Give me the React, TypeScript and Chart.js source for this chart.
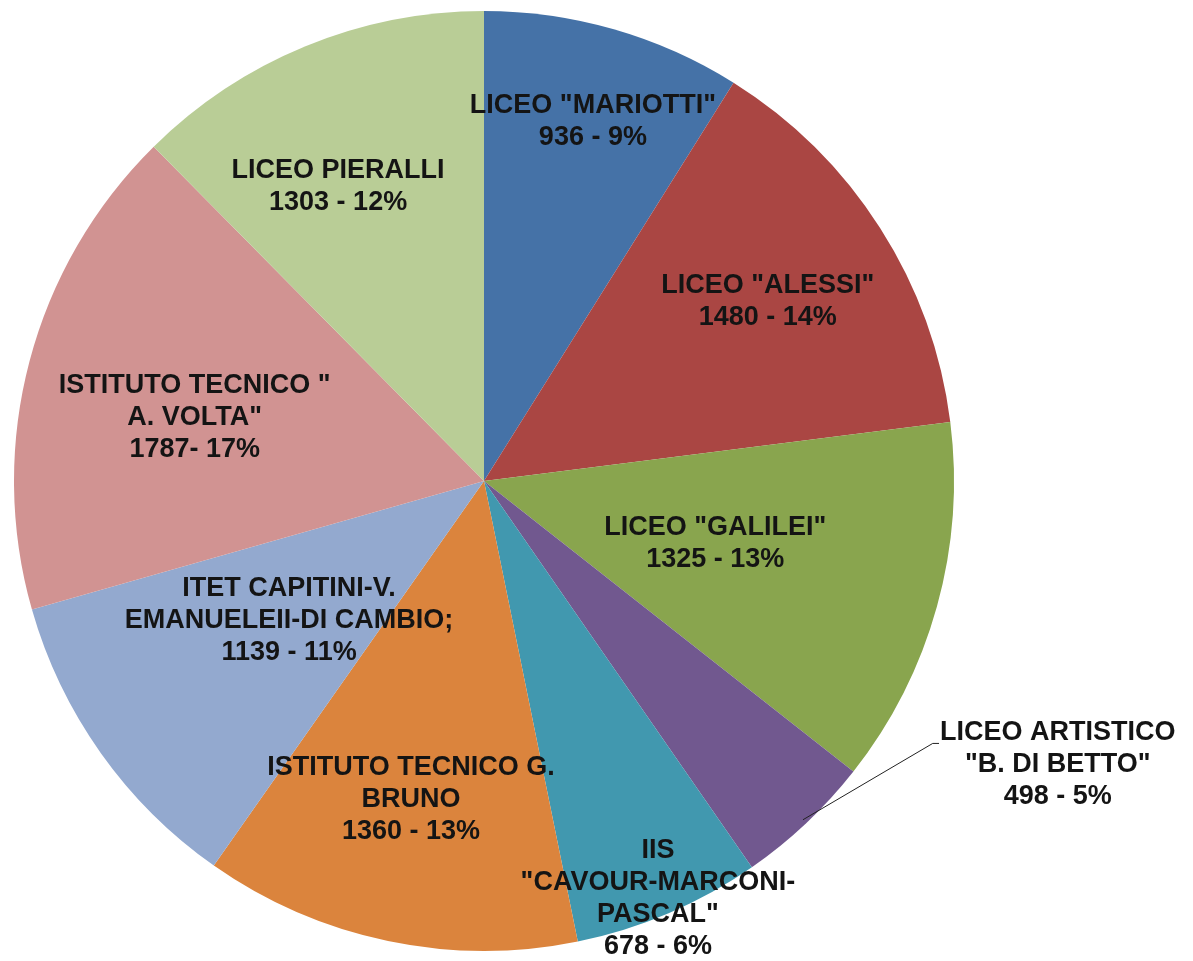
import React, { useEffect, useRef } from "react";
import { Chart, registerables } from "chart.js";

Chart.register(...registerables);

// ---- data ----
const categories = [
  'LICEO "MARIOTTI"',
  'LICEO "ALESSI"',
  'LICEO "GALILEI"',
  'LICEO ARTISTICO "B. DI BETTO"',
  'IIS "CAVOUR-MARCONI-PASCAL"',
  "ISTITUTO TECNICO G. BRUNO",
  "ITET CAPITINI-V. EMANUELEII-DI CAMBIO;",
  'ISTITUTO TECNICO " A. VOLTA"',
  "LICEO PIERALLI",
];
const students = [936, 1480, 1325, 498, 678, 1360, 1139, 1787, 1303];
const labelNameLines = [
  ['LICEO "MARIOTTI"'],
  ['LICEO "ALESSI"'],
  ['LICEO "GALILEI"'],
  ["LICEO ARTISTICO", '"B. DI BETTO"'],
  ["IIS", '"CAVOUR-MARCONI-', 'PASCAL"'],
  ["ISTITUTO TECNICO G.", "BRUNO"],
  ["ITET CAPITINI-V.", "EMANUELEII-DI CAMBIO;"],
  ['ISTITUTO TECNICO "', 'A. VOLTA"'],
  ["LICEO PIERALLI"],
];
const valueSeparators = [" - ", " - ", " - ", " - ", " - ", " - ", " - ", "- ", " - "];

// ---- style ----
const sliceColors = [
  "#4572A7",
  "#AA4643",
  "#89A54E",
  "#71588F",
  "#4198AF",
  "#DB843D",
  "#93A9CF",
  "#D19392",
  "#B9CD96",
];
const FONT_SIZE = 27;
const LINE_HEIGHT = 32;
const TEXT_COLOR = "#141414";
// label placement: angular shift (deg, clockwise) from slice middle, radius factor
const labelPlacement = [
  { shift: 0.8, r: 0.8 },
  { shift: 0.2, r: 0.715 },
  { shift: -0.3, r: 0.51 },
  { shift: -20.4, r: 1.362, outside: true, elbowShift: -16.4, elbowR: 1.106 },
  { shift: 0.5, r: 0.962 },
  { shift: 1.1, r: 0.696 },
  { shift: -0.2, r: 0.51 },
  { shift: -2.4, r: 0.63 },
  { shift: -4.0, r: 0.7 },
];

const total = students.reduce((a, b) => a + b, 0);

const labelPlugin = {
  id: "sliceLabels",
  afterDatasetsDraw(chart: any) {
    const ctx = chart.ctx;
    const meta = chart.getDatasetMeta(0);
    ctx.save();
    ctx.font = `bold ${FONT_SIZE}px "Liberation Sans", Arial, sans-serif`;
    ctx.textAlign = "center";
    ctx.textBaseline = "middle";
    meta.data.forEach((arc: any, i: number) => {
      const { x, y, startAngle, endAngle, outerRadius } = arc.getProps(
        ["x", "y", "startAngle", "endAngle", "outerRadius"],
        true
      );
      const mid = (startAngle + endAngle) / 2;
      const pct = Math.round((students[i] / total) * 100);
      const lines = [...labelNameLines[i], `${students[i]}${valueSeparators[i]}${pct}%`];
      const p: any = labelPlacement[i];
      const a = mid + (p.shift * Math.PI) / 180;
      const cx = x + Math.cos(a) * outerRadius * p.r;
      const cy = y + Math.sin(a) * outerRadius * p.r;
      const maxW = Math.max(...lines.map((l) => ctx.measureText(l).width));
      if (p.outside) {
        const sx = x + Math.cos(mid) * outerRadius * 0.99;
        const sy = y + Math.sin(mid) * outerRadius * 0.99;
        const ea = mid + (p.elbowShift * Math.PI) / 180;
        const ex = x + Math.cos(ea) * outerRadius * p.elbowR;
        const ey = y + Math.sin(ea) * outerRadius * p.elbowR;
        ctx.beginPath();
        ctx.strokeStyle = "#222";
        ctx.lineWidth = 1;
        ctx.moveTo(sx, sy);
        ctx.lineTo(ex, ey);
        ctx.lineTo(cx - maxW / 2 - 1, ey);
        ctx.stroke();
      }
      ctx.fillStyle = TEXT_COLOR;
      const top = cy - ((lines.length - 1) * LINE_HEIGHT) / 2;
      lines.forEach((l, k) => ctx.fillText(l, cx, top + k * LINE_HEIGHT));
    });
    ctx.restore();
  },
};

export default function App() {
  const canvasRef = useRef<HTMLCanvasElement | null>(null);
  useEffect(() => {
    if (!canvasRef.current) return;
    const chart = new Chart(canvasRef.current, {
      type: "pie",
      data: {
        labels: categories,
        datasets: [
          {
            data: students,
            backgroundColor: sliceColors,
            borderWidth: 0,
            hoverOffset: 0,
            offset: 0,
          },
        ],
      },
      options: {
        responsive: false,
        animation: false,
        layout: { padding: { left: 14, right: 239, top: 11, bottom: 10 } },
        plugins: {
          legend: { display: false },
          tooltip: { enabled: false },
        },
      },
      plugins: [labelPlugin],
    });
    return () => chart.destroy();
  }, []);
  return (
    <div style={{ position: "absolute", left: 0, top: 0, width: 1193, height: 961, background: "#fff" }}>
      <canvas ref={canvasRef} width={1193} height={961} style={{ display: "block" }} />
    </div>
  );
}
